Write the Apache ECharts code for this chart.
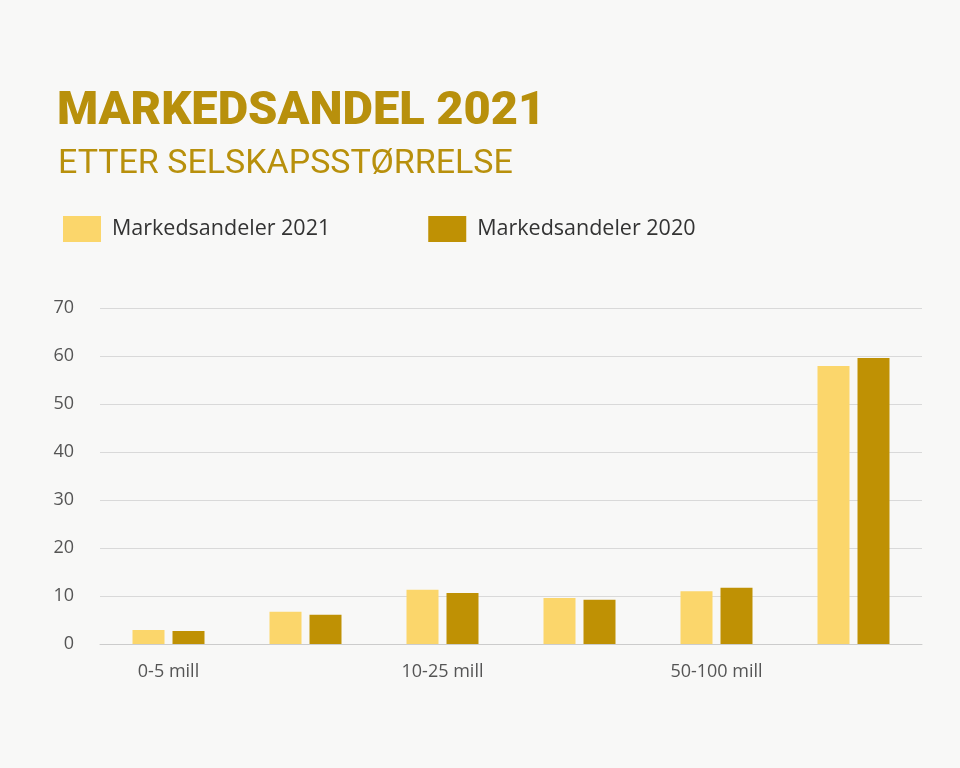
<!DOCTYPE html>
<html><head><meta charset="utf-8">
<script src="https://cdn.jsdelivr.net/npm/echarts@6/dist/echarts.min.js"></script>
<style>html,body{margin:0;background:#f8f8f7}#c{width:960px;height:768px}</style>
</head><body><div id="c"></div>
<script>
const categories = ['0-5 mill','5-10 mill','10-25 mill','25-50 mill','50-100 mill','Over 100 mill'];
const share2021 = [2.9, 6.7, 11.3, 9.6, 11.0, 57.9];
const share2020 = [2.7, 6.1, 10.6, 9.2, 11.7, 59.6];
const chart = echarts.init(document.getElementById('c'));
chart.setOption({
  backgroundColor: '#f8f8f7',
  title: [
    {text: 'MARKEDSANDEL 2021', left: 52, top: 84, textStyle: {fontFamily: 'Roboto', fontWeight: 900, fontSize: 47, color: '#b8900c'}},
    {text: 'ETTER SELSKAPSSTØRRELSE', left: 53, top: 142, textStyle: {fontFamily: 'Roboto', fontWeight: 'normal', fontSize: 34, color: '#b8900c'}}
  ],
  legend: {
    top: 211, left: 58, itemWidth: 38, itemHeight: 26, itemGap: 98, icon: 'rect',
    textStyle: {fontFamily: 'Open Sans', fontSize: 21.5, color: '#333', padding: [0,0,0,6]},
    data: ['Markedsandeler 2021', 'Markedsandeler 2020']
  },
  grid: {left: 100, right: 38, top: 308, bottom: 124},
  xAxis: {
    type: 'category', data: categories,
    axisLine: {lineStyle: {color: '#ccc'}}, axisTick: {show: false},
    axisLabel: {fontFamily: 'Open Sans', fontSize: 18, color: '#555', margin: 19}
  },
  yAxis: {
    type: 'value', min: 0, max: 70, interval: 10,
    axisLabel: {fontFamily: 'Open Sans', fontSize: 18, color: '#555', margin: 26},
    splitLine: {lineStyle: {color: '#d9d9d9'}}
  },
  series: [
    {name: 'Markedsandeler 2021', type: 'bar', data: share2021, barWidth: 32, barGap: '25%', itemStyle: {color: '#fbd66b'}},
    {name: 'Markedsandeler 2020', type: 'bar', data: share2020, barWidth: 32, itemStyle: {color: '#bf9104'}}
  ]
});
</script></body></html>
